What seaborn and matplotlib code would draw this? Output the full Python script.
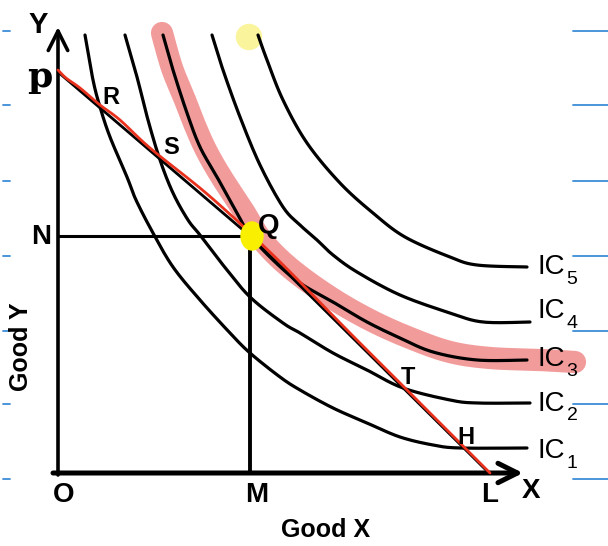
import numpy as np
import pandas as pd
import matplotlib
matplotlib.use("Agg")
import matplotlib.pyplot as plt
from matplotlib.patches import Ellipse
import seaborn as sns

# ---- indifference curves (Good X, Good Y) ----
ic1_x = [2.7, 3.5, 4.2, 5.2, 6.9, 7.8, 9.5, 11.5, 14.2, 17.2, 19.2, 22.2, 24.2, 27.5, 30.9, 34.2, 37.5, 40.2, 46.9]
ic1_y = [43.8, 39.3, 36.6, 33.6, 29.6, 27.3, 24.0, 20.6, 17.3, 14.0, 12.0, 9.6, 8.3, 6.5, 5.0, 3.6, 2.8, 2.5, 2.5]
ic2_x = [6.7, 7.9, 9.0, 10.2, 11.5, 13.0, 14.2, 16.5, 19.2, 22.5, 24.2, 27.5, 30.9, 34.5, 39.2, 41.9, 47.2]
ic2_y = [43.8, 39.6, 35.3, 31.3, 28.0, 25.3, 23.8, 20.8, 17.6, 15.0, 14.0, 12.0, 10.3, 8.5, 7.3, 7.0, 7.0]
ic3_x = [10.5, 11.5, 12.9, 14.2, 15.9, 17.9, 19.2, 21.5, 24.2, 27.5, 30.9, 34.2, 37.5, 41.9, 46.9]
ic3_y = [43.8, 40.3, 36.0, 32.6, 29.6, 26.0, 23.8, 21.3, 19.0, 17.1, 15.1, 13.5, 12.1, 11.3, 11.3]
ic4_x = [15.4, 16.5, 18.2, 20.2, 22.5, 24.2, 25.9, 27.5, 29.9, 34.2, 39.2, 42.5, 47.2]
ic4_y = [43.8, 40.3, 35.6, 30.8, 26.6, 24.8, 23.3, 21.8, 20.1, 17.8, 16.0, 15.1, 15.1]
ic5_x = [20.0, 20.9, 22.5, 24.9, 28.2, 31.5, 34.7, 39.2, 41.9, 46.9]
ic5_y = [43.8, 41.3, 37.3, 33.0, 29.0, 26.0, 23.6, 21.6, 20.8, 20.6]
ic_names = ["1", "2", "3", "4", "5"]
ic_label_y = [2.2, 6.9, 11.4, 16.2, 20.6]

# ---- budget line p -> Q -> L ----
budget_x = [0.0, 19.2, 43.1]
budget_y = [40.1, 23.7, 0.0]
q_x, q_y = 19.2, 23.7          # equilibrium: OM of X, ON of Y

# hand-drawn red trace over the budget line
red_x = [0.0, 0.8, 2.2, 4.2, 6.2, 9.2, 14.2, 17.5, 19.2, 21.7, 24.2, 29.2, 34.2, 39.2, 42.2, 42.9, 43.2]
red_y = [40.3, 39.5, 38.5, 36.8, 35.3, 32.5, 28.5, 25.6, 24.0, 21.6, 19.1, 14.0, 9.0, 4.0, 1.0, 0.3, 0.0]

# highlighter stroke along IC3
pink_x = [10.4, 11.4, 12.7, 13.8, 14.9, 16.4, 18.5, 20.4, 23.2, 27.2, 31.2, 35.2, 39.2, 43.2, 48.2, 51.7]
pink_y = [44.0, 40.5, 37.3, 34.5, 32.1, 29.5, 26.3, 23.3, 20.5, 17.6, 15.3, 13.5, 12.1, 11.5, 11.3, 11.1]

# point labels
point_labels = {"R": (5.3, 37.6), "S": (11.3, 32.6), "T": (35.0, 9.5), "H": (40.8, 3.6)}

# ruled page margin marks
guide_rows = [44.2, 36.8, 29.2, 21.7, 14.2, 6.9, -0.6]


def smooth(xs, ys, n=14):
    """Catmull-Rom path through the given points."""
    P = np.column_stack([xs, ys]).astype(float)
    P = np.vstack([P[0], P, P[-1]])
    out = []
    t = np.linspace(0, 1, n, endpoint=False)[:, None]
    for i in range(1, len(P) - 2):
        p0, p1, p2, p3 = P[i - 1], P[i], P[i + 1], P[i + 2]
        seg = 0.5 * (2 * p1 + (-p0 + p2) * t + (2 * p0 - 5 * p1 + 4 * p2 - p3) * t ** 2
                     + (-p0 + 3 * p1 - 3 * p2 + p3) * t ** 3)
        out.append(seg)
    out.append(P[-2][None, :])
    return np.vstack(out)


sns.set_theme(style="white")
fam = ["Liberation Sans", "DejaVu Sans"]
plt.rcParams["font.family"] = fam

fig = plt.figure(figsize=(6.08, 5.46), dpi=100)
ax = fig.add_axes([0, 0, 1, 1])
ax.set_xlim(-5.8, 55.0)
ax.set_ylim(-7.3, 47.3)
ax.axis("off")

# highlighter
pk = smooth(pink_x, pink_y)
ax.plot(pk[:, 0], pk[:, 1], color="#F29B9B", lw=16, solid_capstyle="round", zorder=1)
ax.add_patch(Ellipse((19.1, 43.6), 2.5, 2.5, color="#FAF59C", zorder=1))

# indifference curves
frames = []
for name, xs, ys in zip(ic_names, [ic1_x, ic2_x, ic3_x, ic4_x, ic5_x],
                        [ic1_y, ic2_y, ic3_y, ic4_y, ic5_y]):
    s = smooth(xs, ys)
    frames.append(pd.DataFrame({"x": s[:, 0], "y": s[:, 1], "curve": name}))
curves = pd.concat(frames, ignore_index=True)
sns.lineplot(data=curves, x="x", y="y", units="curve", estimator=None, sort=False,
             color="black", lw=2.3, ax=ax, zorder=2, legend=False)

# budget line
sns.lineplot(x=budget_x, y=budget_y, sort=False, estimator=None, color="black",
             lw=2.0, ax=ax, zorder=2)
rd = smooth(red_x, red_y, n=6)
ax.plot(rd[:, 0], rd[:, 1], color="#E8321E", lw=2.0, zorder=3, solid_capstyle="round")

# OM and ON guides
ax.plot([q_x, q_x], [0, q_y], color="black", lw=2.8, zorder=2)
ax.plot([0, q_x], [q_y, q_y], color="black", lw=2.2, zorder=2)
ax.add_patch(Ellipse((q_x + 0.2, q_y), 2.2, 2.8, color="#F8F000", zorder=4))

# axes with arrows
ax.annotate("", xy=(0, 44.6), xytext=(0, -0.2),
            arrowprops=dict(arrowstyle="->,head_length=0.7,head_width=0.35",
                            lw=2.6, color="black", mutation_scale=20, shrinkA=0, shrinkB=0),
            zorder=2)
ax.annotate("", xy=(46.5, 0), xytext=(-0.5, 0),
            arrowprops=dict(arrowstyle="->,head_length=0.7,head_width=0.35",
                            lw=3.6, color="black", mutation_scale=20, shrinkA=0, shrinkB=0),
            zorder=2)

txt = dict(color="black", fontweight="bold", ha="center", va="center", family=fam, zorder=5)
ax.text(-2.0, 44.8, "Y", fontsize=21, **txt)
ax.text(-1.8, 39.6, "p", fontsize=26, color="black", fontweight="bold", ha="center",
        va="center", family=["DejaVu Serif"], zorder=5)
ax.text(-1.7, 23.6, "N", fontsize=20, **txt)
ax.text(0.6, -2.2, "O", fontsize=20, **txt)
ax.text(q_x + 0.7, -2.2, "M", fontsize=20, **txt)
ax.text(budget_x[-1] + 0.1, -2.2, "L", fontsize=20, **txt)
ax.text(47.3, -1.8, "X", fontsize=20, **txt)
ax.text(q_x + 1.9, q_y + 1.0, "Q", fontsize=20, **txt)
for lab, (lx, ly) in point_labels.items():
    ax.text(lx, ly, lab, fontsize=17, **txt)
ax.text(26.8, -5.7, "Good X", fontsize=18, **txt)
ax.text(-3.7, 12.6, "Good Y", fontsize=18, rotation=90, **txt)

for name, ly in zip(ic_names, ic_label_y):
    ax.text(48.0, ly, "IC", fontsize=20, color="black", ha="left", va="center",
            family=fam, zorder=5)
    ax.text(50.85, ly - 1.2, name, fontsize=14, color="black", ha="left", va="center",
            family=fam, zorder=5)

# margin rules
for gy in guide_rows:
    ax.plot([-5.5, -4.8], [gy, gy], color="#3C8CD7", lw=1.3, zorder=1)
    ax.plot([51.5, 55.0], [gy, gy], color="#3C8CD7", lw=1.3, zorder=1)

fig.savefig("out.png", dpi=100)
